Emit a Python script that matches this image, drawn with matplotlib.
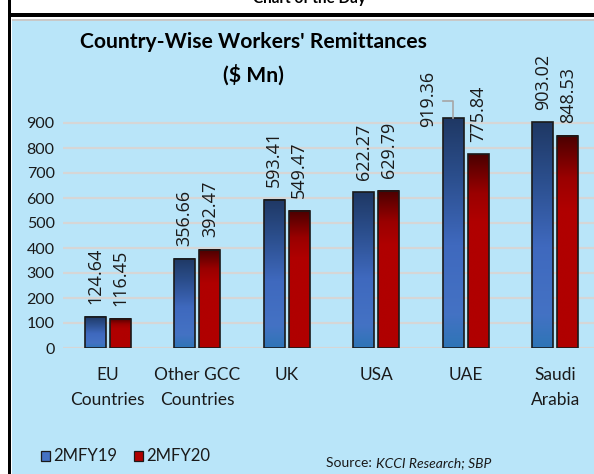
import numpy as np
import matplotlib
matplotlib.use("Agg")
import matplotlib.pyplot as plt
from matplotlib.colors import LinearSegmentedColormap
from matplotlib.patches import Rectangle

categories = ["EU\nCountries", "Other GCC\nCountries", "UK", "USA", "UAE", "Saudi\nArabia"]
fy19 = [124.64, 356.66, 593.41, 622.27, 919.36, 903.02]
fy20 = [116.45, 392.47, 549.47, 629.79, 775.84, 848.53]
series_names = ["2MFY19", "2MFY20"]
yticks = [0, 100, 200, 300, 400, 500, 600, 700, 800, 900]

BG = "#B9E5F9"
W, H = 594, 474

blue_cm = LinearSegmentedColormap.from_list(
    "b", [(0, "#1F3864"), (0.25, "#2B4E8C"), (0.55, "#3F69BE"), (0.85, "#4472C4"), (1, "#2E75B6")])
red_cm = LinearSegmentedColormap.from_list(
    "r", [(0, "#4A0000"), (0.2, "#9A0000"), (0.35, "#B00000"), (1, "#B00000")])

fig = plt.figure(figsize=(W / 100, H / 100), dpi=100)
fig.patch.set_facecolor("white")

# frame: blue panel, black top/left lines
fig.add_artist(Rectangle((12 / W, 0), 1, 1 - 20 / H, transform=fig.transFigure,
                         facecolor=BG, edgecolor="none", zorder=0))
fig.add_artist(Rectangle((12 / W, 1 - 21 / H), 1, 1.5 / H, transform=fig.transFigure,
                         facecolor="#C8C8C8", edgecolor="none", zorder=0))
fig.add_artist(Rectangle((8 / W, 1 - 17 / H), 1, 4 / H, transform=fig.transFigure,
                         facecolor="black", edgecolor="none", zorder=1))
fig.add_artist(Rectangle((8 / W, 0), 3 / W, 1, transform=fig.transFigure,
                         facecolor="black", edgecolor="none", zorder=1))
fig.text(309 / W, 1 - 3 / H, "Chart of the Day", ha="center", va="baseline",
         fontsize=11, fontweight="bold", family="Lato")

# axes: y=0 at 348px, 900 at 123px
y0, y900 = 348, 123
ax_bottom = 1 - y0 / H
ax_h = (y0 - y900) / H * (1000 / 900)
ax = fig.add_axes([63 / W, ax_bottom, 537 / W, ax_h])
ax.set_facecolor("none")
for s in ax.spines.values():
    s.set_visible(False)
ax.set_yticks(yticks)
ax.set_yticklabels([str(t) for t in yticks], fontsize=11.5, family="Lato", color="#1a1a1a")
ax.tick_params(axis="y", length=0, pad=6)
ax.yaxis.grid(True, color="#D6D6D6", linewidth=1.6)
ax.set_axisbelow(True)
ax.set_xticks([])

x = np.arange(len(categories))
off, bw = 0.14, 0.23
grad = np.linspace(0, 1, 256).reshape(-1, 1)
for vals, cm, dx in [(fy19, blue_cm, -off), (fy20, red_cm, off)]:
    bars = ax.bar(x + dx, vals, bw, facecolor="none", edgecolor="#1a1a1a",
                  linewidth=1.2, zorder=3)
    for b in bars:
        x0, w, h = b.get_x(), b.get_width(), b.get_height()
        ax.imshow(grad, cmap=cm, extent=[x0, x0 + w, 0, h], aspect="auto",
                  origin="upper", zorder=2, interpolation="bicubic")
    for xi, v in zip(x + dx, vals):
        if v == max(fy19) and dx < 0:
            continue
        ax.text(xi, v + 50, f"{v:.2f}", rotation=90, ha="center", va="bottom",
                fontsize=13, family="Open Sans", color="#1a1a1a", zorder=4)

# UAE 2MFY19 label moved left with leader line
i = fy19.index(max(fy19))
ax.text(x[i] - off - 0.28, 884, f"{fy19[i]:.2f}", rotation=90, ha="center",
        va="bottom", fontsize=13, family="Open Sans", color="#1a1a1a", zorder=4)
ax.plot([x[i] - off - 0.11, x[i] - off, x[i] - off], [990, 990, fy19[i] + 2],
        color="#A6A6A6", linewidth=1.2, zorder=4, clip_on=False)
ax.set_ylim(0, 1000)
ax.set_xlim(-0.5, 5.5)

# category labels
for xi, c in zip(x, categories):
    ax.text(xi, -76, c, ha="center", va="top", fontsize=12.5, family="Lato",
            color="#1a1a1a", linespacing=1.7)

# title
fig.text(253 / W, 1 - 42 / H, "Country-Wise Workers' Remittances", ha="center",
         va="center", fontsize=15.2, fontweight="bold", family="Lato")
fig.text(253 / W, 1 - 75 / H, "($ Mn)", ha="center", va="center",
         fontsize=15.2, fontweight="bold", family="Lato")

# legend
for lx, col, name in [(41, "#4472C4", series_names[0]), (134, "#B00000", series_names[1])]:
    fig.add_artist(Rectangle((lx / W, 1 - 461 / H), 9 / W, 10 / H, transform=fig.transFigure,
                             facecolor=col, edgecolor="#1a1a1a", linewidth=0.9))
    fig.text((lx + 12) / W, 1 - 456 / H, name, ha="left", va="center",
             fontsize=12, family="Lato", color="#1a1a1a")

fig.text(326 / W, 1 - 463 / H, "Source: ", ha="left", va="center", fontsize=10,
         family="Lato", color="#1a1a1a")
fig.text(376 / W, 1 - 463 / H, "KCCI Research; SBP", ha="left", va="center",
         fontsize=10, family="Lato", style="italic", color="#1a1a1a")

fig.savefig("out.png", dpi=100, facecolor=fig.get_facecolor())
